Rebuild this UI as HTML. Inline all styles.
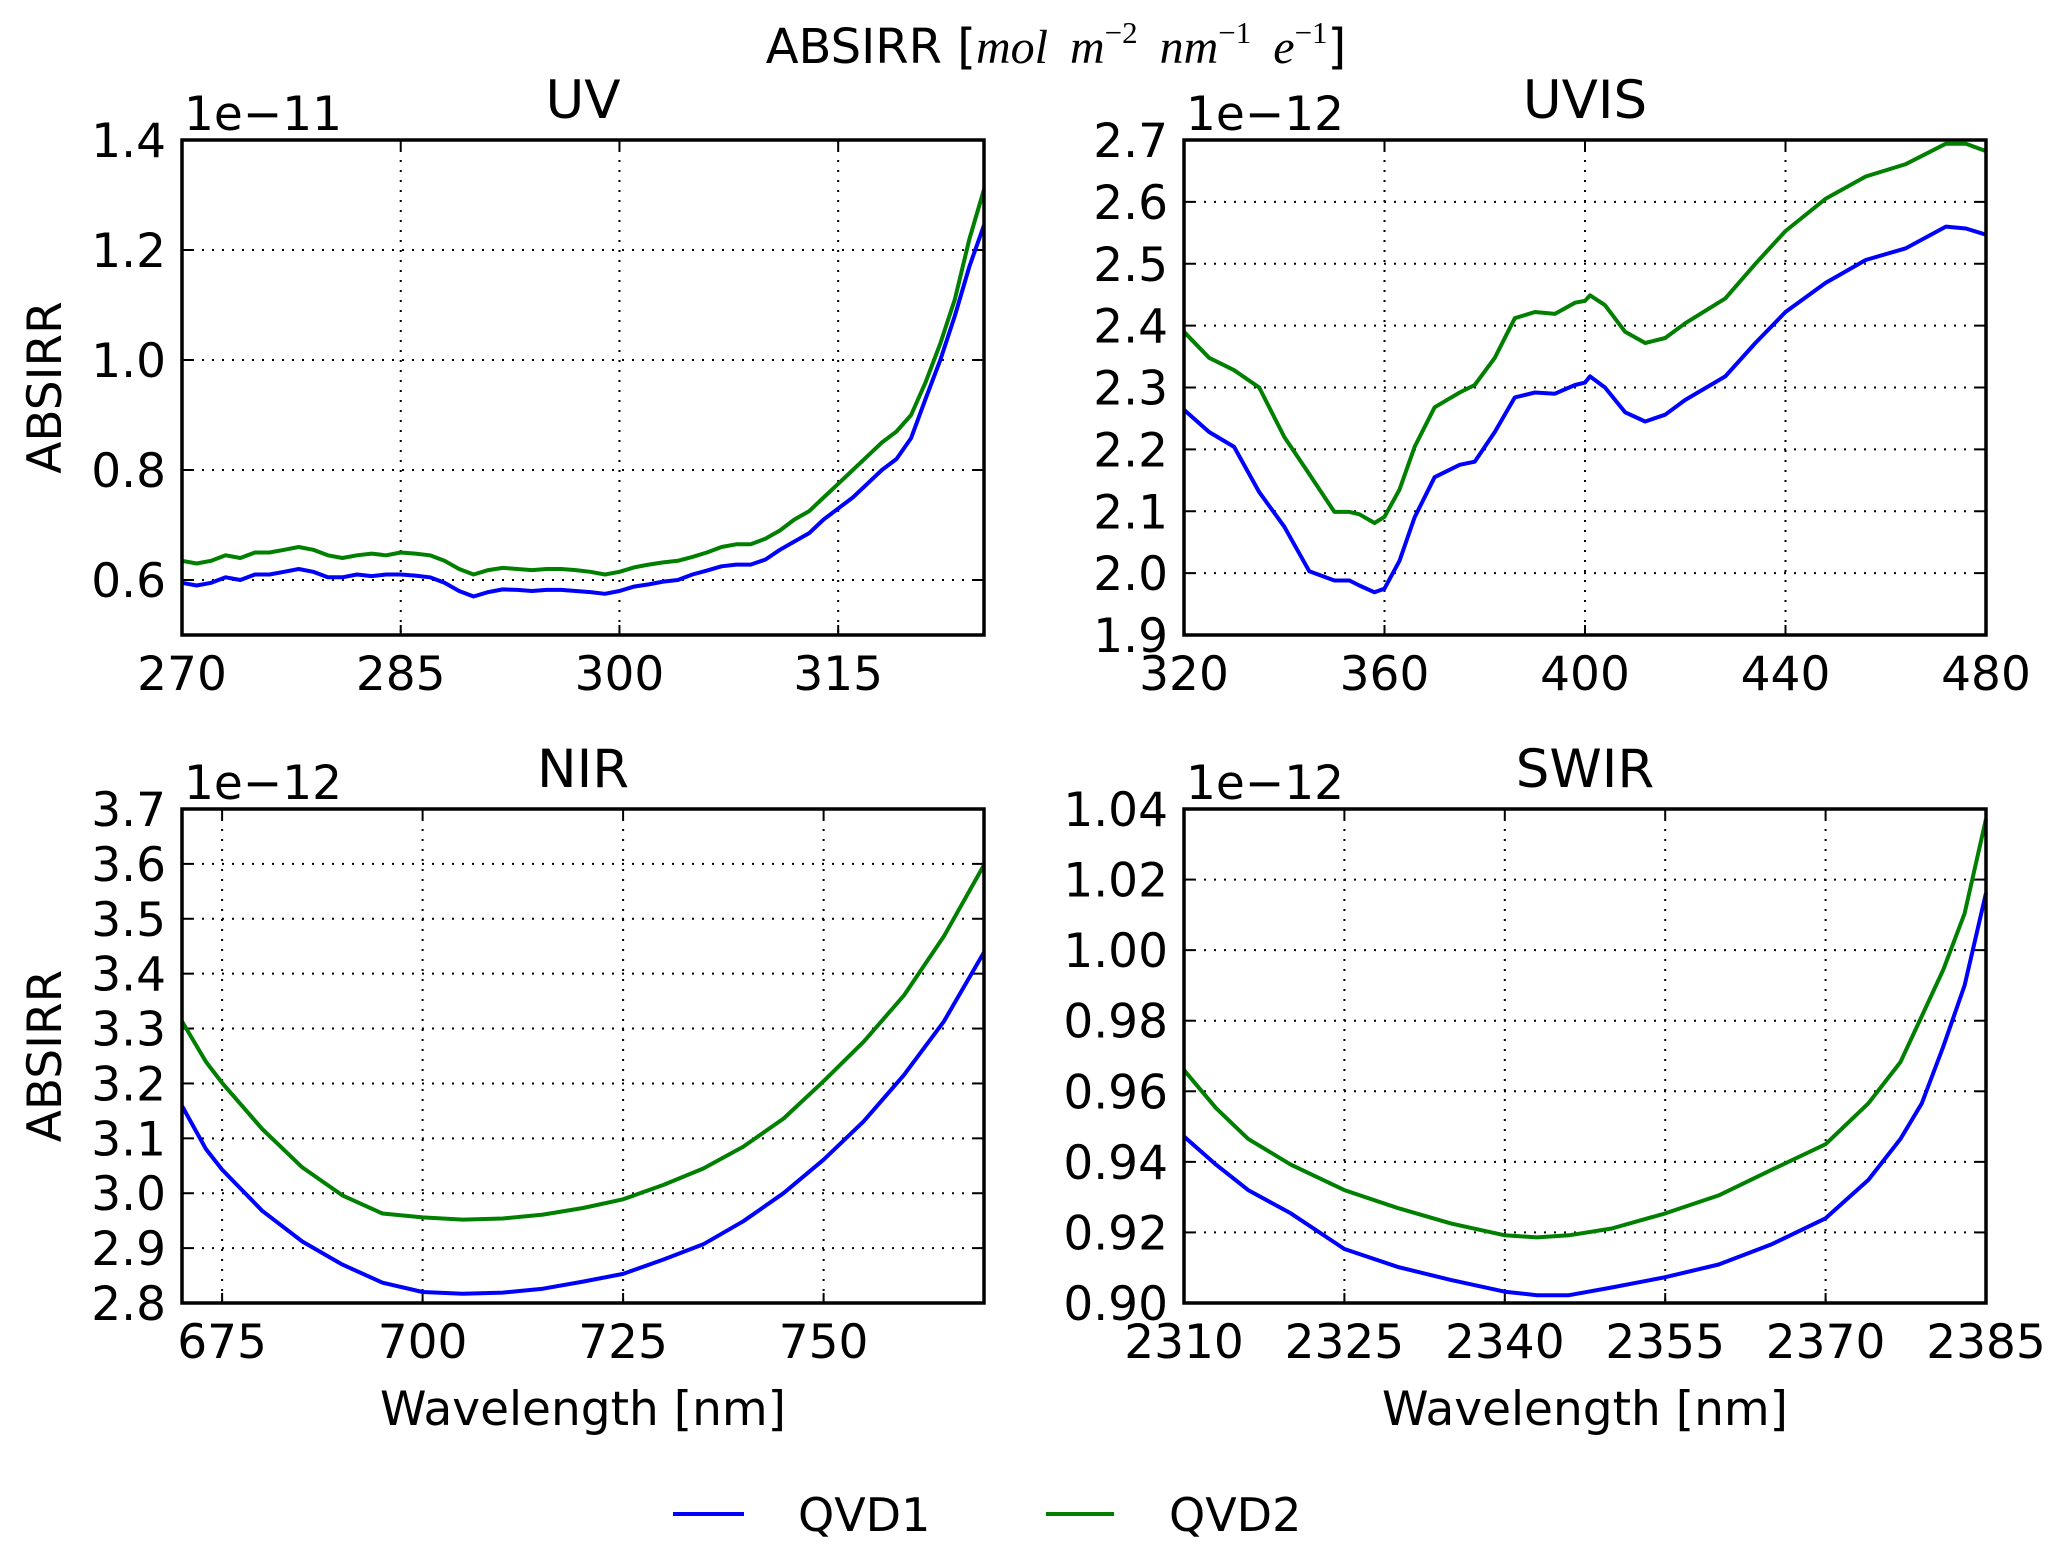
<!DOCTYPE html>
<html><head><meta charset="utf-8">
<style>
html,body{margin:0;padding:0;background:#fff;}
svg{display:block;font-family:"DejaVu Sans","Liberation Sans",sans-serif;}
</style></head>
<body>
<svg id="fig" width="2067" height="1563" viewBox="0 0 2067 1563" xmlns="http://www.w3.org/2000/svg">
<rect width="2067" height="1563" fill="#fff"/>
<text x="1056" y="63" text-anchor="middle" font-size="48">ABSIRR [<tspan font-family="Liberation Serif,serif" font-style="italic">mol</tspan><tspan dx="22" font-family="Liberation Serif,serif" font-style="italic">m</tspan><tspan font-family="Liberation Serif,serif" font-size="31" dy="-20">−2</tspan><tspan dx="22" dy="20" font-family="Liberation Serif,serif" font-style="italic">nm</tspan><tspan font-family="Liberation Serif,serif" font-size="31" dy="-20">−1</tspan><tspan dx="22" dy="20" font-family="Liberation Serif,serif" font-style="italic">e</tspan><tspan font-family="Liberation Serif,serif" font-size="31" dy="-20">−1</tspan><tspan dy="20">]</tspan></text>
<g id="panels"></g>
<g>
<line x1="673" y1="1514" x2="744" y2="1514" stroke="#0000ff" stroke-width="4"/>
<text x="798" y="1531" font-size="46">QVD1</text>
<line x1="1046" y1="1514" x2="1114" y2="1514" stroke="#007f00" stroke-width="4"/>
<text x="1169" y="1531" font-size="46">QVD2</text>
</g>
</svg>
<script>
// UV
const uvX=[270,271,272,273,274,275,276,277,278,279,280,281,282,283,284,285,286,287,288,289,290,291,292,293,294,295,296,297,298,299,300,301,302,303,304,305,306,307,308,309,310,311,312,313,314,315,316,317,318,319,320,321,322,323,324,325];
const uvQ1=[0.595,0.59,0.595,0.605,0.6,0.61,0.61,0.615,0.62,0.615,0.605,0.605,0.61,0.607,0.61,0.61,0.608,0.605,0.595,0.58,0.57,0.578,0.583,0.582,0.58,0.582,0.582,0.58,0.578,0.575,0.58,0.588,0.592,0.597,0.6,0.61,0.617,0.625,0.628,0.628,0.637,0.655,0.67,0.685,0.71,0.73,0.75,0.775,0.8,0.82,0.858,0.93,1.0,1.08,1.17,1.245];
const uvQ2=[0.635,0.63,0.635,0.645,0.64,0.65,0.65,0.655,0.66,0.655,0.645,0.64,0.645,0.648,0.645,0.65,0.648,0.645,0.635,0.62,0.61,0.618,0.622,0.62,0.618,0.62,0.62,0.618,0.615,0.61,0.615,0.623,0.628,0.632,0.635,0.642,0.65,0.66,0.665,0.665,0.675,0.69,0.71,0.725,0.75,0.775,0.8,0.825,0.85,0.87,0.9,0.96,1.03,1.11,1.22,1.31];
const uvXTicks=["270","285","300","315"];
const uvYTicks=["0.6","0.8","1.0","1.2","1.4"];
// UVIS
const uvisX=[320,325,330,335,340,345,350,353,355,358,360,363,366,370,375,378,382,386,390,394,398,400,401,404,408,412,416,420,428,434,440,448,456,464,472,476,480];
const uvisQ1=[2.264,2.228,2.204,2.131,2.075,2.003,1.988,1.988,1.98,1.969,1.975,2.02,2.09,2.155,2.175,2.18,2.228,2.284,2.292,2.29,2.304,2.308,2.318,2.3,2.26,2.245,2.256,2.28,2.318,2.372,2.422,2.469,2.506,2.525,2.56,2.557,2.547];
const uvisQ2=[2.39,2.348,2.328,2.3,2.22,2.16,2.099,2.099,2.095,2.081,2.091,2.135,2.204,2.268,2.292,2.304,2.348,2.412,2.422,2.419,2.437,2.44,2.449,2.433,2.39,2.372,2.38,2.404,2.444,2.5,2.553,2.605,2.641,2.661,2.694,2.694,2.682];
const uvisXTicks=["320","360","400","440","480"];
const uvisYTicks=["1.9","2.0","2.1","2.2","2.3","2.4","2.5","2.6","2.7"];
// NIR
const nirX=[670,673,675,680,685,690,695,700,705,710,715,720,725,730,735,740,745,750,755,760,765,770];
const nirQ1=[3.159,3.08,3.043,2.968,2.912,2.87,2.837,2.82,2.817,2.819,2.826,2.839,2.853,2.879,2.907,2.949,3.0,3.061,3.131,3.215,3.313,3.439];
const nirQ2=[3.313,3.239,3.201,3.117,3.047,2.996,2.963,2.956,2.952,2.954,2.961,2.973,2.989,3.015,3.045,3.085,3.136,3.204,3.276,3.36,3.468,3.598];
const nirXTicks=["675","700","725","750"];
const nirYTicks=["2.8","2.9","3.0","3.1","3.2","3.3","3.4","3.5","3.6","3.7"];
// SWIR
const swirX=[2310,2313,2316,2320,2325,2330,2335,2340,2343,2346,2350,2355,2360,2365,2370,2374,2377,2379,2381,2383,2385];
const swirQ1=[0.9472,0.9392,0.932,0.9254,0.9153,0.9102,0.9065,0.9032,0.9022,0.9022,0.9044,0.9073,0.9109,0.9167,0.924,0.9349,0.9465,0.9566,0.9726,0.99,1.0162];
const swirQ2=[0.966,0.9552,0.9465,0.9392,0.932,0.9269,0.9225,0.9192,0.9186,0.9192,0.9211,0.9254,0.9305,0.9378,0.945,0.9566,0.9683,0.9813,0.9944,1.0104,1.0372];
const swirXTicks=["2310","2325","2340","2355","2370","2385"];
const swirYTicks=["0.90","0.92","0.94","0.96","0.98","1.00","1.02","1.04"];

const NS="http://www.w3.org/2000/svg";
const root=document.getElementById('panels');
function mk(tag,attrs,parent){const e=document.createElementNS(NS,tag);for(const k in attrs)e.setAttribute(k,attrs[k]);(parent||root).appendChild(e);return e;}

function panel(name,title,L,T,R,B,xmin,xmax,ymin,ymax,xs,q1,q2,xt,yt,off,ylab,xlab){
  const g=mk('g',{});
  
  
  const sx=v=>L+(v-xmin)/(xmax-xmin)*(R-L);
  const sy=v=>B-(v-ymin)/(ymax-ymin)*(B-T);
  xt.forEach(t=>{const v=parseFloat(t),x=sx(v);
    if(x>L+1&&x<R-1){const l=mk('line',{x1:x,y1:T,x2:x,y2:B,stroke:'#000','stroke-width':2,'stroke-dasharray':'2,8'},g);
      
      }
    mk('line',{x1:x,y1:B,x2:x,y2:B-10,stroke:'#000','stroke-width':2},g);
    mk('line',{x1:x,y1:T,x2:x,y2:T+10,stroke:'#000','stroke-width':2},g);
    const tx=mk('text',{x:x,y:B+55,'text-anchor':'middle','font-size':47},g);tx.textContent=t;
    
    
  });
  yt.forEach(t=>{const v=parseFloat(t),y=sy(v);
    if(y>T+1&&y<B-1){const l=mk('line',{x1:L,y1:y,x2:R,y2:y,stroke:'#000','stroke-width':2,'stroke-dasharray':'2,8'},g);
      
      }
    mk('line',{x1:L,y1:y,x2:L+10,y2:y,stroke:'#000','stroke-width':2},g);
    mk('line',{x1:R,y1:y,x2:R-10,y2:y,stroke:'#000','stroke-width':2},g);
    const tx=mk('text',{x:L-16,y:y+17,'text-anchor':'end','font-size':47},g);tx.textContent=t;
    
    
  });
  [[q1,'#0000ff','qvd1'],[q2,'#007f00','qvd2']].forEach(([arr,c,n])=>{
    const pts=xs.map((x,i)=>sx(x).toFixed(1)+','+sy(arr[i]).toFixed(1)).join(' ');
    const p=mk('polyline',{points:pts,fill:'none',stroke:c,'stroke-width':4,'stroke-linejoin':'round'},g);
    
    
  });
  const fr=mk('rect',{x:L,y:T,width:R-L,height:B-T,fill:'none',stroke:'#000','stroke-width':3.5},g);
  
  
  const tt=mk('text',{x:(L+R)/2,y:T-22,'text-anchor':'middle','font-size':53},g);tt.textContent=title;
  
  
  const ot=mk('text',{x:L+2,y:T-10,'font-size':47},g);ot.textContent=off;
  
  
  if(ylab){const yl=mk('text',{x:0,y:0,'text-anchor':'middle','font-size':47,transform:'translate(61,'+((T+B)/2)+') rotate(-90)'},g);yl.textContent='ABSIRR';
    
    }
  if(xlab){const xl=mk('text',{x:(L+R)/2,y:B+122,'text-anchor':'middle','font-size':47},g);xl.textContent='Wavelength [nm]';
    
    }
}
panel('uv','UV',182,140,984,635,270,325,0.5,1.4,uvX,uvQ1,uvQ2,uvXTicks,uvYTicks,'1e−11',true,false);
panel('uvis','UVIS',1184,140,1986,635,320,480,1.9,2.7,uvisX,uvisQ1,uvisQ2,uvisXTicks,uvisYTicks,'1e−12',false,false);
panel('nir','NIR',182,809,984,1303,670,770,2.8,3.7,nirX,nirQ1,nirQ2,nirXTicks,nirYTicks,'1e−12',true,true);
panel('swir','SWIR',1184,809,1986,1303,2310,2385,0.90,1.04,swirX,swirQ1,swirQ2,swirXTicks,swirYTicks,'1e−12',false,true);
</script>
</body></html>
